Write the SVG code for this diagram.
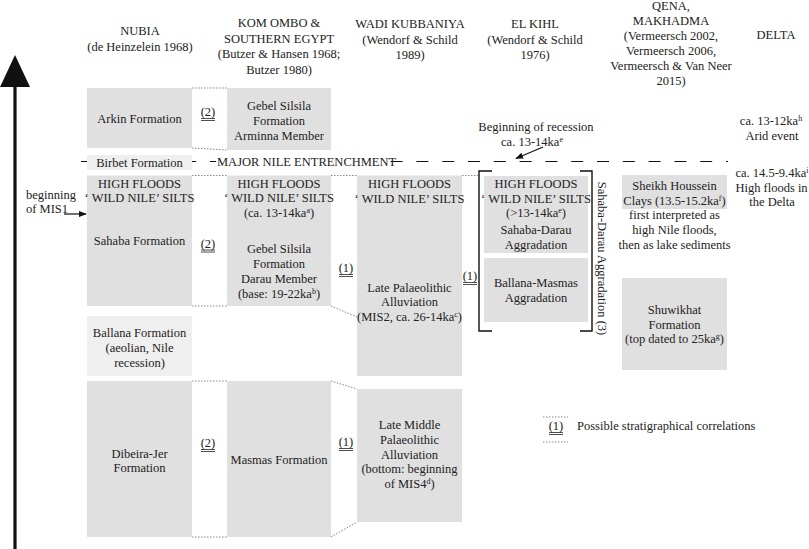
<svg xmlns="http://www.w3.org/2000/svg" width="809" height="549" viewBox="0 0 809 549">
<style>
text{font-family:"Liberation Serif","Times New Roman",serif;font-size:12.5px;fill:#222;text-anchor:middle}
.l{text-anchor:start}
.e{text-anchor:end}
.box{fill:#e0e0e0}
.lt{fill:#efefef}
.dot{stroke:#888;stroke-width:1;stroke-dasharray:1.5 1.5;fill:none}
.ul{stroke:#222;stroke-width:0.8;fill:none}
.sup{font-size:8px}
</style>
<defs>
<marker id="ah" viewBox="0 0 10 10" refX="9" refY="5" markerWidth="8" markerHeight="8" markerUnits="userSpaceOnUse" orient="auto">
<path d="M0,1 L10,5 L0,9 z" fill="#111"/>
</marker>
</defs>
<rect width="809" height="549" fill="#fff"/>

<!-- time axis -->
<g id="axis">
<line x1="15" y1="80" x2="15" y2="549" stroke="#111" stroke-width="3.2"/>
<polygon points="15,55 0,87 30,87" fill="#111"/>
</g>

<!-- headers -->
<g id="headers">
<text x="140" y="35">NUBIA</text>
<text x="140" y="50.5">(de Heinzelein 1968)</text>
<text x="279" y="27">KOM OMBO &amp;</text>
<text x="279" y="42.5">SOUTHERN EGYPT</text>
<text x="279" y="58">(Butzer &amp; Hansen 1968;</text>
<text x="279" y="73.5">Butzer 1980)</text>
<text x="410" y="28">WADI KUBBANIYA</text>
<text x="410" y="43.5">(Wendorf &amp; Schild</text>
<text x="410" y="59">1989)</text>
<text x="535" y="28">EL KIHL</text>
<text x="535" y="43.5">(Wendorf &amp; Schild</text>
<text x="535" y="59">1976)</text>
<text x="671" y="10">QENA,</text>
<text x="671" y="25">MAKHADMA</text>
<text x="671" y="40">(Vermeersch 2002,</text>
<text x="671" y="55">Vermeersch 2006,</text>
<text x="671" y="70">Vermeersch &amp; Van Neer</text>
<text x="671" y="85">2015)</text>
<text x="776" y="39">DELTA</text>
</g>

<!-- entrenchment dashed line -->
<g id="entrenchment">
<line x1="81" y1="161.5" x2="728" y2="161.5" stroke="#111" stroke-width="1.2" stroke-dasharray="12 13.8"/>
<rect x="216" y="154" width="170" height="15" fill="#fff"/>
<text class="l" x="217" y="166">MAJOR NILE ENTRENCHMENT</text>
</g>

<!-- connectors -->
<g id="connectors">
<path class="dot" d="M192,88 H227 M192,148 L227,150 M192,175.5 H227 M331,175.5 H357 M462,175.5 H479 M192,306 H227 M331,306 L357,317 M192,381 H227 M331,381 L357,389 M192,537 H227 M331,537 L357,522"/>
<line x1="64" y1="214" x2="86" y2="214" stroke="#111" stroke-width="1.2" marker-end="url(#ah)"/>
<line x1="543" y1="147" x2="516" y2="158.5" stroke="#111" stroke-width="1.1" marker-end="url(#ah)"/>
</g>

<!-- NUBIA column -->
<g id="arkin">
<rect class="box" x="87" y="88" width="105" height="60"/>
<text x="139.5" y="122.5">Arkin Formation</text>
</g>
<g id="birbet">
<rect class="lt" x="87" y="155" width="105" height="15"/>
<text x="139.5" y="166.5">Birbet Formation</text>
</g>
<g id="sahaba">
<rect class="box" x="87" y="175.5" width="105" height="130.5"/>
<text x="139.5" y="187.5">HIGH FLOODS</text>
<text x="139.5" y="202.3">‘ WILD NILE’  SILTS</text>
<text x="139.5" y="245">Sahaba Formation</text>
</g>
<g id="ballana">
<rect class="lt" x="87" y="316" width="105" height="60"/>
<text x="139.5" y="337">Ballana Formation</text>
<text x="139.5" y="352">(aeolian, Nile</text>
<text x="139.5" y="366.6">recession)</text>
</g>
<g id="dibeira">
<rect class="box" x="87" y="381" width="105" height="156"/>
<text x="139.5" y="457.5">Dibeira-Jer</text>
<text x="139.5" y="471.5">Formation</text>
</g>

<!-- KOM OMBO column -->
<g id="arminna">
<rect class="box" x="227" y="88" width="104" height="62"/>
<text x="279" y="109.5">Gebel Silsila</text>
<text x="279" y="124.5">Formation</text>
<text x="279" y="139.5">Arminna Member</text>
</g>
<g id="darau">
<rect class="box" x="227" y="175.5" width="104" height="130.5"/>
<text x="279" y="187.5">HIGH FLOODS</text>
<text x="279" y="202.3">‘ WILD NILE’ SILTS</text>
<text x="279" y="217">(ca. 13-14ka<tspan class="sup" dy="-4">a</tspan><tspan dy="4">)</tspan></text>
<text x="279" y="252.5">Gebel Silsila</text>
<text x="279" y="268">Formation</text>
<text x="279" y="283">Darau Member</text>
<text x="279" y="297.5">(base: 19-22ka<tspan class="sup" dy="-4">b</tspan><tspan dy="4">)</tspan></text>
</g>
<g id="masmas">
<rect class="box" x="227" y="381" width="104" height="156"/>
<text x="279" y="464">Masmas Formation</text>
</g>

<!-- WADI KUBBANIYA column -->
<g id="latepal">
<rect class="box" x="357" y="175.5" width="105" height="200.5"/>
<text x="409.5" y="188">HIGH FLOODS</text>
<text x="409.5" y="202.5">‘ WILD NILE’  SILTS</text>
<text x="409.5" y="291.5">Late Palaeolithic</text>
<text x="409.5" y="306">Alluviation</text>
<text x="409.5" y="321">(MIS2, ca. 26-14ka<tspan class="sup" dy="-4">c</tspan><tspan dy="4">)</tspan></text>
</g>
<g id="latemiddle">
<rect class="box" x="357" y="389" width="105" height="133"/>
<text x="409.5" y="429">Late Middle</text>
<text x="409.5" y="444">Palaeolithic</text>
<text x="409.5" y="458.5">Alluviation</text>
<text x="409.5" y="473">(bottom: beginning</text>
<text x="409.5" y="487.5">of MIS4<tspan class="sup" dy="-4">d</tspan><tspan dy="4">)</tspan></text>
</g>

<!-- EL KIHL column -->
<g id="elkihl">
<path d="M492,171 H479 V331 H492 M580,171 H592 V331 H580" fill="none" stroke="#111" stroke-width="1.4"/>
<text transform="translate(598,258.5) rotate(90)" x="0" y="0">Sahaba-Darau Aggradation (3)</text>
</g>
<g id="sahabadarau">
<rect class="box" x="484" y="176" width="104" height="77"/>
<text x="536" y="188">HIGH FLOODS</text>
<text x="536" y="202.5">‘ WILD NILE’  SILTS</text>
<text x="536" y="217">(&gt;13-14ka<tspan class="sup" dy="-4">e</tspan><tspan dy="4">)</tspan></text>
<text x="536" y="234">Sahaba-Darau</text>
<text x="536" y="249">Aggradation</text>
</g>
<g id="ballanamasmas">
<rect class="box" x="484" y="258" width="104" height="64"/>
<text x="536" y="287">Ballana-Masmas</text>
<text x="536" y="301.5">Aggradation</text>
</g>
<g id="recession">
<text x="536" y="131">Beginning of recession</text>
<text x="532" y="146">ca. 13-14ka<tspan class="sup" dy="-4">e</tspan></text>
</g>

<!-- QENA column -->
<g id="sheikh">
<rect class="box" x="622" y="175" width="105" height="34"/>
<text x="674.5" y="190">Sheikh Houssein</text>
<text x="674.5" y="204.5">Clays (13.5-15.2ka<tspan class="sup" dy="-4">f</tspan><tspan dy="4">)</tspan></text>
<text x="674.5" y="219">first interpreted as</text>
<text x="674.5" y="234">high Nile floods,</text>
<text x="674.5" y="249">then as lake sediments</text>
</g>
<g id="shuwikhat">
<rect class="box" x="622" y="278" width="105" height="92"/>
<text x="674.5" y="314">Shuwikhat</text>
<text x="674.5" y="328.5">Formation</text>
<text x="674.5" y="343">(top dated to 25ka<tspan class="sup" dy="-4">g</tspan><tspan dy="4">)</tspan></text>
</g>

<!-- DELTA column -->
<g id="delta">
<text x="771" y="125">ca. 13-12ka<tspan class="sup" dy="-4">h</tspan></text>
<text x="772" y="140">Arid event</text>
<text class="e" x="808.5" y="177">ca. 14.5-9.4ka<tspan class="sup" dy="-4">i</tspan></text>
<text x="771.5" y="191.5">High floods in</text>
<text x="772" y="206">the Delta</text>
</g>

<!-- beginning of MIS1 -->
<g id="mis1">
<text class="l" x="26" y="199">beginning</text>
<text class="l" x="26" y="212.5">of MIS1</text>
</g>

<!-- correlation labels -->
<g id="labels">
<text x="208" y="116">(2)</text>
<text x="208" y="247.5">(2)</text>
<text x="208" y="447">(2)</text>
<text x="346" y="272">(1)</text>
<text x="346" y="446">(1)</text>
<text x="470" y="280">(1)</text>
<path class="ul" d="M201,118.5 H215 M201,120.5 H215 M201,250 H215 M201,252 H215 M201,449.5 H215 M201,451.5 H215 M339,274.5 H353 M339,276.5 H353 M339,448.5 H353 M339,450.5 H353 M463,282.5 H477 M463,284.5 H477"/>
</g>

<!-- legend -->
<g id="legend">
<path class="dot" d="M543,417 H568 M543,442 H568"/>
<text x="556" y="430">(1)</text>
<path class="ul" d="M549,432.5 H563 M549,434.5 H563"/>
<text class="l" x="577" y="430">Possible stratigraphical correlations</text>
</g>
</svg>
